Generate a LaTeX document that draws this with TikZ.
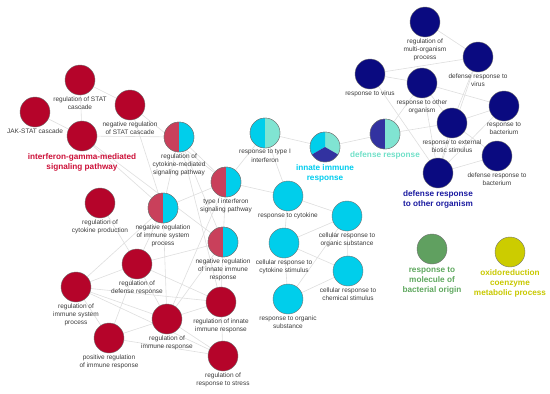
\documentclass[tikz,border=0pt]{standalone}
\usepackage{fontspec}
\setmainfont{Liberation Sans}
\usetikzlibrary{backgrounds}
\definecolor{cred}{RGB}{181,4,42}
\definecolor{cpred}{RGB}{201,64,91}
\definecolor{ccyan}{RGB}{0,206,235}
\definecolor{caqua}{RGB}{128,228,210}
\definecolor{cnavy}{RGB}{10,10,128}
\definecolor{cpblue}{RGB}{50,50,160}
\definecolor{cgreen}{RGB}{96,160,96}
\definecolor{cyell}{RGB}{204,204,0}
\definecolor{lred}{RGB}{204,16,56}
\definecolor{lcyan}{RGB}{0,204,238}
\definecolor{laqua}{RGB}{112,224,200}
\definecolor{lnavy}{RGB}{26,26,160}
\definecolor{lgreen}{RGB}{95,168,95}
\definecolor{lyell}{RGB}{200,200,0}
\definecolor{ltext}{RGB}{60,60,60}
\definecolor{cedge}{RGB}{222,222,222}
\newcommand{\mypie}[3]{%
 \begin{scope}[shift={(#1.center)}, x=1pt, y=1pt]
 \fill[#2] (0,0) -- (90:15pt) arc[start angle=90, end angle=270, radius=15pt] -- cycle;
 \fill[#3] (0,0) -- (-90:15pt) arc[start angle=-90, end angle=90, radius=15pt] -- cycle;
 \draw[draw=black!55, line width=0.4pt] (0,0) circle[radius=15pt];
 \end{scope}}
\begin{document}
\begin{tikzpicture}[x=1pt,y=-1pt,
 term/.style={circle, minimum size=30pt, inner sep=0pt, draw=black!55, line width=0.4pt},
 tred/.style={term, fill=cred},
 tcyan/.style={term, fill=ccyan},
 tnavy/.style={term, fill=cnavy},
 tgreen/.style={term, fill=cgreen},
 tyell/.style={term, fill=cyell},
 lab/.style={anchor=north, inner sep=0pt, align=center, text=ltext, font=\fontsize{6.5}{8.3}\selectfont},
 blab/.style={anchor=north, inner sep=0pt, align=center, font=\fontsize{8.2}{10}\selectfont\bfseries},
 link/.style={draw=cedge, line width=0.6pt}]
\useasboundingbox (0,0) rectangle (550,394);
% nodes
\node[tred] (regSTAT) at (80,80) {};
\node[tred] (JAK) at (35,112) {};
\node[tred] (negSTAT) at (130,105) {};
\node[tred] (ifng) at (82,136) {};
\node[term] (regcyto) at (179,137) {};
\node[term] (rtypeI) at (265,133) {};
\node[term] (typeI) at (226,182) {};
\node[term] (innate) at (325,147) {};
\node[term] (defense) at (385,134) {};
\node[tnavy] (regmulti) at (425,22) {};
\node[tnavy] (dvirus) at (478,57) {};
\node[tnavy] (rvirus) at (370,74) {};
\node[tnavy] (rother) at (422,83) {};
\node[tnavy] (rbact) at (504,106) {};
\node[tnavy] (rext) at (452,123) {};
\node[tnavy] (dbact) at (497,156) {};
\node[tnavy] (dother) at (438,173) {};
\node[tred] (regcytoprod) at (100,203) {};
\node[term] (negimm) at (163,208) {};
\node[term] (negInnate) at (223,242) {};
\node[tcyan] (rcyto) at (288,196) {};
\node[tcyan] (cellorg) at (347,216) {};
\node[tcyan] (cellcyto) at (284,243) {};
\node[tcyan] (cellchem) at (348,271) {};
\node[tcyan] (rorg) at (288,299) {};
\node[tred] (regdef) at (137,264) {};
\node[tred] (regimmsys) at (76,287) {};
\node[tred] (regimm) at (167,319) {};
\node[tred] (posreg) at (109,338) {};
\node[tred] (regInnate) at (221,302) {};
\node[tred] (regstress) at (223,356) {};
\node[tgreen] (molbact) at (432,249) {};
\node[tyell] (oxido) at (510,252) {};
% pies
\mypie{regcyto}{cpred}{ccyan}
\mypie{typeI}{cpred}{ccyan}
\mypie{negimm}{cpred}{ccyan}
\mypie{negInnate}{cpred}{ccyan}
\mypie{rtypeI}{ccyan}{caqua}
\mypie{defense}{cpblue}{caqua}
\begin{scope}[shift={(innate.center)}, x=1pt, y=1pt]
 \fill[caqua] (0,0) -- (-30:15pt) arc[start angle=-30, end angle=90, radius=15pt] -- cycle;
 \fill[ccyan] (0,0) -- (90:15pt) arc[start angle=90, end angle=210, radius=15pt] -- cycle;
 \fill[cpblue] (0,0) -- (210:15pt) arc[start angle=210, end angle=330, radius=15pt] -- cycle;
 \draw[draw=black!55, line width=0.4pt] (0,0) circle[radius=15pt];
\end{scope}
% edges
\begin{scope}[on background layer]
\foreach \a/\b in {regSTAT/negSTAT, regSTAT/ifng, JAK/ifng, ifng/regcyto, ifng/negimm, ifng/negInnate,
 negSTAT/negimm, negSTAT/typeI, regcyto/negimm, regcyto/typeI, regcyto/negInnate, regcyto/regInnate,
 typeI/rtypeI, typeI/rcyto, typeI/negimm, typeI/negInnate, typeI/regimm,
 rtypeI/rcyto, rtypeI/innate, innate/defense,
 rcyto/cellcyto, rcyto/cellorg, cellcyto/cellorg, cellcyto/cellchem, cellcyto/rorg,
 cellorg/cellchem, cellorg/rorg, cellchem/rorg,
 negimm/regdef, negimm/regimm, negimm/regimmsys, negInnate/regdef, negInnate/regInnate, negInnate/regimm,
 regcytoprod/regdef, regdef/regimmsys, regdef/regimm, regdef/regInnate, regdef/posreg,
 regimmsys/regimm, regimmsys/regInnate, regimmsys/regstress, regimmsys/posreg,
 posreg/regimm, posreg/regstress, regimm/regInnate, regimm/regstress, regInnate/regstress,
 regmulti/dvirus, rvirus/dvirus, rvirus/rother, rvirus/dother, rother/rbact, rother/rext,
 rother/dother, rother/defense, dvirus/rext, dvirus/dother, rext/rbact, rext/dbact, rext/dother,
 rbact/dother, dbact/dother, defense/rext}
 \draw[link] (\a) -- (\b);
\end{scope}
% labels
\node[lab] (regSTAT-l) at ([yshift=-1pt]regSTAT.south) {regulation of STAT\\cascade};
\node[lab] (JAK-l) at ([yshift=-1pt]JAK.south) {JAK-STAT cascade};
\node[lab] (negSTAT-l) at ([yshift=-1pt]negSTAT.south) {negative regulation\\of STAT cascade};
\node[blab, text=lred] (ifng-l) at ([yshift=-2.5pt]ifng.south) {interferon-gamma-mediated\\signaling pathway};
\node[lab] (regcyto-l) at ([yshift=-1pt]regcyto.south) {regulation of\\cytokine-mediated\\signaling pathway};
\node[lab] (rtypeI-l) at ([yshift=-1pt]rtypeI.south) {response to type I\\interferon};
\node[lab] (typeI-l) at ([yshift=-1pt]typeI.south) {type I interferon\\signaling pathway};
\node[blab, text=lcyan] (innate-l) at ([yshift=-2.5pt]innate.south) {innate immune\\response};
\node[blab, text=laqua] (defense-l) at ([yshift=-2.5pt]defense.south) {defense response};
\node[lab] (regmulti-l) at ([yshift=-1pt]regmulti.south) {regulation of\\multi-organism\\process};
\node[lab] (dvirus-l) at ([yshift=-1pt]dvirus.south) {defense response to\\virus};
\node[lab] (rvirus-l) at ([yshift=-1pt]rvirus.south) {response to virus};
\node[lab] (rother-l) at ([yshift=-1pt]rother.south) {response to other\\organism};
\node[lab] (rbact-l) at ([yshift=-1pt]rbact.south) {response to\\bacterium};
\node[lab] (rext-l) at ([yshift=-1pt]rext.south) {response to external\\biotic stimulus};
\node[lab] (dbact-l) at ([yshift=-1pt]dbact.south) {defense response to\\bacterium};
\node[blab, text=lnavy] (dother-l) at ([yshift=-2.5pt]dother.south) {defense response\\to other organism};
\node[lab] (regcytoprod-l) at ([yshift=-1pt]regcytoprod.south) {regulation of\\cytokine production};
\node[lab] (negimm-l) at ([yshift=-1pt]negimm.south) {negative regulation\\of immune system\\process};
\node[lab] (negInnate-l) at ([yshift=-1pt]negInnate.south) {negative regulation\\of innate immune\\response};
\node[lab] (rcyto-l) at ([yshift=-1pt]rcyto.south) {response to cytokine};
\node[lab] (cellorg-l) at ([yshift=-1pt]cellorg.south) {cellular response to\\organic substance};
\node[lab] (cellcyto-l) at ([yshift=-1pt]cellcyto.south) {cellular response to\\cytokine stimulus};
\node[lab] (cellchem-l) at ([yshift=-1pt]cellchem.south) {cellular response to\\chemical stimulus};
\node[lab] (rorg-l) at ([yshift=-1pt]rorg.south) {response to organic\\substance};
\node[lab] (regdef-l) at ([yshift=-1pt]regdef.south) {regulation of\\defense response};
\node[lab] (regimmsys-l) at ([yshift=-1pt]regimmsys.south) {regulation of\\immune system\\process};
\node[lab] (regimm-l) at ([yshift=-1pt]regimm.south) {regulation of\\immune response};
\node[lab] (posreg-l) at ([yshift=-1pt]posreg.south) {positive regulation\\of immune response};
\node[lab] (regInnate-l) at ([yshift=-1pt]regInnate.south) {regulation of innate\\immune response};
\node[lab] (regstress-l) at ([yshift=-1pt]regstress.south) {regulation of\\response to stress};
\node[blab, text=lgreen] (molbact-l) at ([yshift=-2.5pt]molbact.south) {response to\\molecule of\\bacterial origin};
\node[blab, text=lyell] (oxido-l) at ([yshift=-2.5pt]oxido.south) {oxidoreduction\\coenzyme\\metabolic process};
\end{tikzpicture}
\end{document}
